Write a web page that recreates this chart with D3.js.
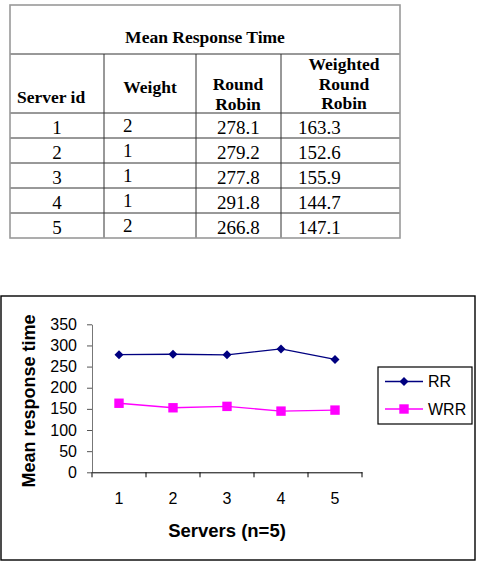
<!DOCTYPE html>
<html>
<head>
<meta charset="utf-8">
<script src="https://cdn.jsdelivr.net/npm/d3@7"></script>
<style>
  html, body { margin: 0; padding: 0; background: #fff; }
  svg { display: block; }
  .tbl text { font-family: "Liberation Serif", "Times New Roman", serif; fill: #000; }
  .chart text { font-family: "Liberation Sans", Arial, sans-serif; fill: #000; }
</style>
</head>
<body>
<div id="root"></div>
<script>
// data
var serverIds = [1, 2, 3, 4, 5];
var weights = [2, 1, 1, 1, 2];
var rrTimes = [278.1, 279.2, 277.8, 291.8, 266.8];
var wrrTimes = [163.3, 152.6, 155.9, 144.7, 147.1];
var yTicks = [0, 50, 100, 150, 200, 250, 300, 350];
var seriesNames = ["RR", "WRR"];

var W = 482, H = 566;
var svg = d3.select("#root").append("svg").attr("width", W).attr("height", H);

// ---------- TABLE ----------
var tbl = svg.append("g").attr("class", "tbl");
var colEdges = [10, 104, 196, 281, 400];
var tTop = 5, titleBottom = 54, headBottom = 113, rowH = 25;
var rowScale = d3.scaleBand().domain(serverIds).range([headBottom, headBottom + rowH * serverIds.length]);
var tBottom = headBottom + rowH * serverIds.length;

// inner lines
tbl.append("line").attr("x1", colEdges[0]).attr("x2", colEdges[4])
    .attr("y1", titleBottom).attr("y2", titleBottom).attr("stroke", "#333");
tbl.selectAll("line.row").data(serverIds).enter().append("line")
    .attr("class", "row")
    .attr("x1", colEdges[0]).attr("x2", colEdges[4])
    .attr("y1", function (d) { return rowScale(d); })
    .attr("y2", function (d) { return rowScale(d); })
    .attr("stroke", "#333");
tbl.selectAll("line.col").data(colEdges.slice(1, 4)).enter().append("line")
    .attr("class", "col")
    .attr("x1", function (d) { return d; }).attr("x2", function (d) { return d; })
    .attr("y1", titleBottom).attr("y2", tBottom).attr("stroke", "#333");
// outer border
tbl.append("rect").attr("x", colEdges[0]).attr("y", tTop)
    .attr("width", colEdges[4] - colEdges[0]).attr("height", tBottom - tTop)
    .attr("fill", "none").attr("stroke", "#999").attr("stroke-width", 1.6);

tbl.append("text").attr("x", 205).attr("y", 43).attr("text-anchor", "middle")
    .style("font-weight", "bold").style("font-size", "17.5px").text("Mean Response Time");

var headers = [
    { x: 17, anchor: "start", lines: ["Server id"], y0: 103 },
    { x: 150, anchor: "middle", lines: ["Weight"], y0: 93 },
    { x: 238, anchor: "middle", lines: ["Round", "Robin"], y0: 90 },
    { x: 344, anchor: "middle", lines: ["Weighted", "Round", "Robin"], y0: 70 }
];
headers.forEach(function (h) {
    h.lines.forEach(function (l, i) {
        tbl.append("text").attr("x", h.x).attr("y", h.y0 + i * 19.5)
            .attr("text-anchor", h.anchor)
            .style("font-weight", "bold").style("font-size", "17.5px").text(l);
    });
});

var cells = tbl.selectAll("g.rowtxt").data(serverIds).enter().append("g")
    .attr("class", "rowtxt")
    .attr("transform", function (d) { return "translate(0," + rowScale(d) + ")"; })
    .style("font-size", "19px");
cells.append("text").attr("x", 57).attr("y", 21).attr("text-anchor", "middle")
    .text(function (d) { return d; });
cells.append("text").attr("x", 123).attr("y", 18.5)
    .text(function (d, i) { return weights[i]; });
cells.append("text").attr("x", 217).attr("y", 21)
    .text(function (d, i) { return rrTimes[i].toFixed(1); });
cells.append("text").attr("x", 298).attr("y", 21)
    .text(function (d, i) { return wrrTimes[i].toFixed(1); });

// ---------- CHART ----------
var chart = svg.append("g").attr("class", "chart");
chart.append("rect").attr("x", 1).attr("y", 296).attr("width", 474).attr("height", 264)
    .attr("fill", "none").attr("stroke", "#000").attr("stroke-width", 1.4);

var x = d3.scaleBand().domain(serverIds).range([92, 362]);
var y = d3.scaleLinear().domain([0, 350]).range([472.3, 324.3]);
var cx = function (d) { return x(d) + x.bandwidth() / 2; };

var yAxis = chart.append("g").attr("transform", "translate(92,0)")
    .call(d3.axisLeft(y).tickValues(yTicks).tickSizeInner(5).tickSizeOuter(0).tickPadding(10));
yAxis.select(".domain").attr("stroke", "#777");
yAxis.selectAll(".tick line").attr("stroke", "#555");
yAxis.selectAll("text").style("font-size", "16px").attr("fill", "#000");

var xAxis = chart.append("g").attr("transform", "translate(0," + y(0) + ")")
    .call(d3.axisBottom(x).tickSizeInner(0).tickSizeOuter(0).tickPadding(20));
xAxis.select(".domain").attr("stroke", "#000");
xAxis.selectAll("text").style("font-size", "16px").attr("fill", "#000").attr("dy", "0.71em");
// category boundary ticks
xAxis.selectAll("line.bound")
    .data(serverIds.map(function (d) { return x(d); }).concat([x.range()[1]]))
    .enter().append("line").attr("class", "bound")
    .attr("x1", function (d) { return d; }).attr("x2", function (d) { return d; })
    .attr("y1", 0).attr("y2", 5).attr("stroke", "#000");

chart.append("text").attr("transform", "translate(35,401) rotate(-90)")
    .attr("text-anchor", "middle").style("font-weight", "bold").style("font-size", "18px")
    .text("Mean response time");
chart.append("text").attr("x", 227).attr("y", 537).attr("text-anchor", "middle")
    .style("font-weight", "bold").style("font-size", "18.5px").text("Servers (n=5)");

var colors = ["#000080", "#FF00FF"];
var series = [rrTimes, wrrTimes];
var line = d3.line().x(function (d, i) { return cx(serverIds[i]); }).y(function (d) { return y(d); });

function marker(g, k, px, py) {
    if (k === 0) {
        g.append("path").attr("d", "M" + px + "," + (py - 4.5) + "L" + (px + 4.5) + "," + py +
            "L" + px + "," + (py + 4.5) + "L" + (px - 4.5) + "," + py + "Z")
            .attr("fill", colors[0]);
    } else {
        g.append("rect").attr("x", px - 4.7).attr("y", py - 4.7).attr("width", 9.4).attr("height", 9.4)
            .attr("fill", colors[1]);
    }
}

series.forEach(function (vals, k) {
    var g = chart.append("g");
    g.append("path").datum(vals).attr("d", line).attr("fill", "none")
        .attr("stroke", colors[k]).attr("stroke-width", 1.3);
    vals.forEach(function (v, i) { marker(g, k, cx(serverIds[i]), y(v)); });
});

// legend
var lg = chart.append("g");
lg.append("rect").attr("x", 378).attr("y", 367).attr("width", 94).attr("height", 57)
    .attr("fill", "#fff").attr("stroke", "#000").attr("stroke-width", 1.2);
seriesNames.forEach(function (name, k) {
    var ly = 381.5 + k * 27.5;
    lg.append("line").attr("x1", 385).attr("x2", 423).attr("y1", ly).attr("y2", ly)
        .attr("stroke", colors[k]).attr("stroke-width", 1.3);
    marker(lg, k, 404, ly);
    lg.append("text").attr("x", 428).attr("y", ly + 5.5).style("font-size", "16px").text(name);
});
</script>
</body>
</html>
